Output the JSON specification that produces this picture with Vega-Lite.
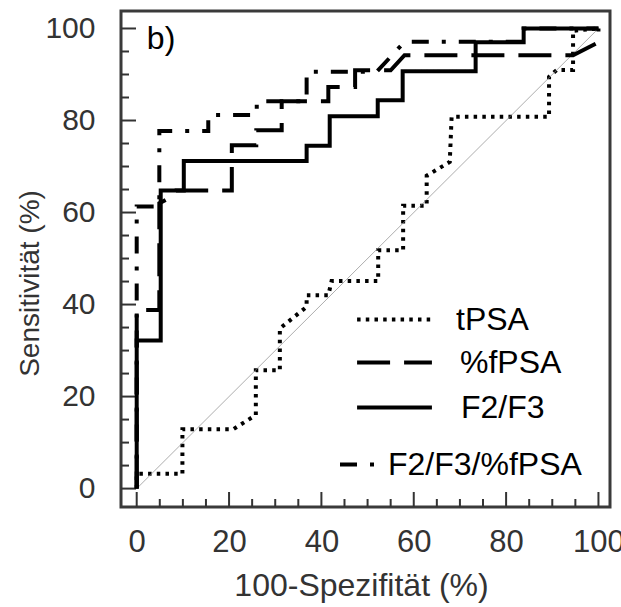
{
  "$schema": "https://vega.github.io/schema/vega-lite/v6.json",
  "width": 489,
  "height": 496,
  "autosize": {"type": "none"},
  "padding": {"left": 121, "top": 11, "right": 11, "bottom": 100},
  "background": "white",
  "config": {
    "view": {"stroke": "#3a3a3a", "strokeWidth": 3},
    "font": "Liberation Sans",
    "axis": {"labelFont": "Liberation Sans", "titleFont": "Liberation Sans", "labelColor": "#333", "titleColor": "#333", "titleFontWeight": "normal"},
    "legend": {"symbolType": "stroke", "symbolStrokeWidth": 4, "symbolStrokeColor": "black", "labelFontSize": 32, "labelColor": "black", "labelLimit": 400, "padding": 0, "orient": "none"},
    "line": {"color": "black", "strokeWidth": 4, "strokeCap": "butt", "strokeJoin": "miter"}
  },
  "datasets": {
    "ticks": [
      {"v": 0}, {"v": 5}, {"v": 10}, {"v": 15}, {"v": 20}, {"v": 25}, {"v": 30},
      {"v": 35}, {"v": 40}, {"v": 45}, {"v": 50}, {"v": 55}, {"v": 60}, {"v": 65},
      {"v": 70}, {"v": 75}, {"v": 80}, {"v": 85}, {"v": 90}, {"v": 95}, {"v": 100}
    ],
    "roc": [
      {"s": "tPSA", "o": 1, "x": 0, "y": 0},
      {"s": "tPSA", "o": 2, "x": 0, "y": 3.2},
      {"s": "tPSA", "o": 3, "x": 9.9, "y": 3.2},
      {"s": "tPSA", "o": 4, "x": 9.9, "y": 12.9},
      {"s": "tPSA", "o": 5, "x": 20.9, "y": 12.9},
      {"s": "tPSA", "o": 6, "x": 25.8, "y": 16},
      {"s": "tPSA", "o": 7, "x": 25.8, "y": 25.7},
      {"s": "tPSA", "o": 8, "x": 31, "y": 25.7},
      {"s": "tPSA", "o": 9, "x": 31, "y": 34.8},
      {"s": "tPSA", "o": 10, "x": 36.8, "y": 39.5},
      {"s": "tPSA", "o": 11, "x": 36.8, "y": 42},
      {"s": "tPSA", "o": 12, "x": 41.5, "y": 42},
      {"s": "tPSA", "o": 13, "x": 42.2, "y": 45.1},
      {"s": "tPSA", "o": 14, "x": 52.3, "y": 45.1},
      {"s": "tPSA", "o": 15, "x": 52.3, "y": 51.8},
      {"s": "tPSA", "o": 16, "x": 57.7, "y": 51.8},
      {"s": "tPSA", "o": 17, "x": 57.7, "y": 61.5},
      {"s": "tPSA", "o": 18, "x": 62.8, "y": 61.5},
      {"s": "tPSA", "o": 19, "x": 62.8, "y": 68},
      {"s": "tPSA", "o": 20, "x": 67.8, "y": 71},
      {"s": "tPSA", "o": 21, "x": 68.2, "y": 80.8},
      {"s": "tPSA", "o": 22, "x": 89.3, "y": 80.8},
      {"s": "tPSA", "o": 23, "x": 89.3, "y": 89.5},
      {"s": "tPSA", "o": 24, "x": 91, "y": 91},
      {"s": "tPSA", "o": 25, "x": 94.5, "y": 91},
      {"s": "tPSA", "o": 26, "x": 94.5, "y": 99.5},
      {"s": "tPSA", "o": 27, "x": 100, "y": 100},
      {"s": "%fPSA", "o": 1, "x": 0, "y": 0},
      {"s": "%fPSA", "o": 2, "x": 0, "y": 38.8},
      {"s": "%fPSA", "o": 3, "x": 4.9, "y": 38.8},
      {"s": "%fPSA", "o": 4, "x": 4.9, "y": 62},
      {"s": "%fPSA", "o": 5, "x": 7.8, "y": 63.5},
      {"s": "%fPSA", "o": 6, "x": 8.5, "y": 64.8},
      {"s": "%fPSA", "o": 7, "x": 20.6, "y": 64.8},
      {"s": "%fPSA", "o": 8, "x": 20.6, "y": 74.6},
      {"s": "%fPSA", "o": 9, "x": 25.9, "y": 74.6},
      {"s": "%fPSA", "o": 10, "x": 25.9, "y": 77.9},
      {"s": "%fPSA", "o": 11, "x": 31.4, "y": 77.9},
      {"s": "%fPSA", "o": 12, "x": 31.4, "y": 84.2},
      {"s": "%fPSA", "o": 13, "x": 41.5, "y": 84.2},
      {"s": "%fPSA", "o": 14, "x": 41.5, "y": 87.3},
      {"s": "%fPSA", "o": 15, "x": 47.3, "y": 87.3},
      {"s": "%fPSA", "o": 16, "x": 47.3, "y": 90.9},
      {"s": "%fPSA", "o": 17, "x": 55, "y": 90.9},
      {"s": "%fPSA", "o": 18, "x": 58, "y": 94.2},
      {"s": "%fPSA", "o": 19, "x": 94.5, "y": 94.2},
      {"s": "%fPSA", "o": 20, "x": 100, "y": 97},
      {"s": "%fPSA", "o": 21, "x": 100, "y": 100},
      {"s": "F2/F3", "o": 1, "x": 0, "y": 0},
      {"s": "F2/F3", "o": 2, "x": 0, "y": 32.2},
      {"s": "F2/F3", "o": 3, "x": 5.2, "y": 32.2},
      {"s": "F2/F3", "o": 4, "x": 5.2, "y": 64.8},
      {"s": "F2/F3", "o": 5, "x": 10.2, "y": 64.8},
      {"s": "F2/F3", "o": 6, "x": 10.2, "y": 71.2},
      {"s": "F2/F3", "o": 7, "x": 36.8, "y": 71.2},
      {"s": "F2/F3", "o": 8, "x": 36.8, "y": 74.5},
      {"s": "F2/F3", "o": 9, "x": 41.8, "y": 74.5},
      {"s": "F2/F3", "o": 10, "x": 41.8, "y": 80.9},
      {"s": "F2/F3", "o": 11, "x": 52.2, "y": 80.9},
      {"s": "F2/F3", "o": 12, "x": 52.2, "y": 84.4},
      {"s": "F2/F3", "o": 13, "x": 57.6, "y": 84.4},
      {"s": "F2/F3", "o": 14, "x": 57.6, "y": 90.7},
      {"s": "F2/F3", "o": 15, "x": 73.4, "y": 90.7},
      {"s": "F2/F3", "o": 16, "x": 73.4, "y": 97},
      {"s": "F2/F3", "o": 17, "x": 83.8, "y": 97},
      {"s": "F2/F3", "o": 18, "x": 83.8, "y": 100},
      {"s": "F2/F3", "o": 19, "x": 100, "y": 100},
      {"s": "F2/F3/%fPSA", "o": 1, "x": 0, "y": 0},
      {"s": "F2/F3/%fPSA", "o": 2, "x": 0, "y": 61.3},
      {"s": "F2/F3/%fPSA", "o": 3, "x": 4.9, "y": 61.3},
      {"s": "F2/F3/%fPSA", "o": 4, "x": 4.9, "y": 77.7},
      {"s": "F2/F3/%fPSA", "o": 5, "x": 15.5, "y": 77.7},
      {"s": "F2/F3/%fPSA", "o": 6, "x": 15.5, "y": 81.2},
      {"s": "F2/F3/%fPSA", "o": 7, "x": 26, "y": 81.2},
      {"s": "F2/F3/%fPSA", "o": 8, "x": 26, "y": 84.2},
      {"s": "F2/F3/%fPSA", "o": 9, "x": 36.8, "y": 84.2},
      {"s": "F2/F3/%fPSA", "o": 10, "x": 36.8, "y": 90.6},
      {"s": "F2/F3/%fPSA", "o": 11, "x": 52, "y": 90.6},
      {"s": "F2/F3/%fPSA", "o": 12, "x": 58, "y": 97.1},
      {"s": "F2/F3/%fPSA", "o": 13, "x": 83.8, "y": 97.1},
      {"s": "F2/F3/%fPSA", "o": 14, "x": 83.8, "y": 100},
      {"s": "F2/F3/%fPSA", "o": 15, "x": 100, "y": 100}
    ]
  },
  "resolve": {
    "scale": {"strokeDash": "independent"},
    "legend": {"strokeDash": "independent"}
  },
  "layer": [
    {
      "data": {"name": "roc"},
      "transform": [{"filter": "datum.s === 'tPSA'"}],
      "mark": {"type": "line"},
      "encoding": {
        "x": {
          "field": "x", "type": "quantitative",
          "scale": {"domain": [-3.4, 102.5], "nice": false, "zero": false},
          "axis": {
            "title": "100-Spezifität (%)",
            "values": [0, 20, 40, 60, 80, 100],
            "domain": false, "grid": false, "ticks": false,
            "labelFontSize": 31, "labelPadding": 20,
            "titleFontSize": 32, "titleX": 240, "titleY": 78, "titleBaseline": "middle", "titleAlign": "center"
          }
        },
        "y": {
          "field": "y", "type": "quantitative",
          "scale": {"domain": [-4, 103.8], "nice": false, "zero": false},
          "axis": {
            "title": "Sensitivität (%)",
            "values": [0, 20, 40, 60, 80, 100],
            "domain": false, "grid": false, "ticks": false,
            "labelFontSize": 30, "labelPadding": 26,
            "titleFontSize": 28, "titleX": -91, "titleY": 272, "titleBaseline": "middle", "titleAngle": -90, "titleAlign": "center"
          }
        },
        "order": {"field": "o", "type": "quantitative"},
        "strokeDash": {
          "field": "s", "type": "nominal",
          "scale": {"domain": ["tPSA"], "range": [[3.5, 5.2]]},
          "legend": {"title": null, "legendX": 234, "legendY": 269, "symbolSize": 5600, "labelOffset": 22}
        }
      }
    },
    {
      "data": {"name": "ticks"},
      "mark": {"type": "tick", "orient": "vertical", "color": "#333333", "thickness": 2, "clip": true, "opacity": 1},
      "encoding": {
        "x": {"field": "v", "type": "quantitative"},
        "y": {"datum": -4, "type": "quantitative"},
        "size": {"condition": {"test": "datum.v % 20 === 0", "value": 30}, "value": 16}
      }
    },
    {
      "data": {"name": "ticks"},
      "mark": {"type": "tick", "orient": "horizontal", "color": "#333333", "thickness": 2, "clip": true, "opacity": 1},
      "encoding": {
        "y": {"field": "v", "type": "quantitative"},
        "x": {"datum": -3.4, "type": "quantitative"},
        "size": {"condition": {"test": "datum.v % 20 === 0", "value": 30}, "value": 16}
      }
    },
    {
      "data": {"values": [{}]},
      "mark": {"type": "rule", "color": "#8a8a8a", "strokeWidth": 0.7},
      "encoding": {
        "x": {"datum": 0, "type": "quantitative"},
        "y": {"datum": 0, "type": "quantitative"},
        "x2": {"datum": 100},
        "y2": {"datum": 100}
      }
    },
    {
      "data": {"name": "roc"},
      "transform": [{"filter": "datum.s === '%fPSA'"}],
      "mark": {"type": "line"},
      "encoding": {
        "x": {"field": "x", "type": "quantitative"},
        "y": {"field": "y", "type": "quantitative"},
        "order": {"field": "o", "type": "quantitative"},
        "strokeDash": {
          "field": "s", "type": "nominal",
          "scale": {"domain": ["%fPSA"], "range": [[33, 14]]},
          "legend": {"title": null, "legendX": 234, "legendY": 312, "symbolSize": 5600, "labelOffset": 26}
        }
      }
    },
    {
      "data": {"name": "roc"},
      "transform": [{"filter": "datum.s === 'F2/F3'"}],
      "mark": {"type": "line"},
      "encoding": {
        "x": {"field": "x", "type": "quantitative"},
        "y": {"field": "y", "type": "quantitative"},
        "order": {"field": "o", "type": "quantitative"},
        "strokeDash": {
          "field": "s", "type": "nominal",
          "scale": {"domain": ["F2/F3"], "range": [[1, 0]]},
          "legend": {"title": null, "legendX": 234, "legendY": 357, "symbolSize": 5600, "labelOffset": 27}
        }
      }
    },
    {
      "data": {"name": "roc"},
      "transform": [{"filter": "datum.s === 'F2/F3/%fPSA'"}],
      "mark": {"type": "line"},
      "encoding": {
        "x": {"field": "x", "type": "quantitative"},
        "y": {"field": "y", "type": "quantitative"},
        "order": {"field": "o", "type": "quantitative"},
        "strokeDash": {
          "field": "s", "type": "nominal",
          "scale": {"domain": ["F2/F3/%fPSA"], "range": [[17, 13, 4, 13]]},
          "legend": {"title": null, "legendX": 217, "legendY": 429, "symbolSize": 2025, "labelOffset": 1}
        }
      }
    },
    {
      "data": {"values": [{}]},
      "mark": {"type": "text", "text": "b)", "fontSize": 32, "align": "left", "baseline": "alphabetic", "color": "black", "font": "Liberation Sans"},
      "encoding": {
        "x": {"datum": 2.2, "type": "quantitative"},
        "y": {"datum": 95.6, "type": "quantitative"}
      }
    }
  ]
}
